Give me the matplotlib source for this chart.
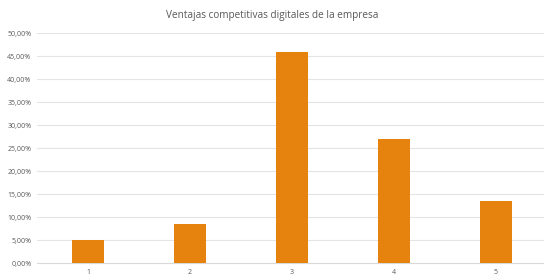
import matplotlib.pyplot as plt
from matplotlib.ticker import FuncFormatter

# Data
categories = ["1", "2", "3", "4", "5"]
values = [4.9, 8.4, 45.8, 27.0, 13.4]
y_ticks = [0, 5, 10, 15, 20, 25, 30, 35, 40, 45, 50]

plt.rcParams['font.family'] = ['Open Sans', 'DejaVu Sans']

# Creating the figure
fig = plt.figure(figsize=(5.44, 2.76), dpi=100)
ax = fig.add_axes([0.068, 0.047, 0.9375, 0.833])

# Adding data
ax.bar(categories, values, width=0.315, color="#E6830F", zorder=3)

# Customizing axis
ax.set_xlim(-0.5, 4.5)
ax.set_ylim(0, 50)
ax.set_yticks(y_ticks)
ax.yaxis.set_major_formatter(FuncFormatter(lambda v, p: ("%.2f%%" % v).replace(".", ",")))
ax.grid(axis="y", color="#E4E4E4", linewidth=0.8, zorder=0)
for side in ["top", "right", "left"]:
    ax.spines[side].set_visible(False)
ax.spines["bottom"].set_color("#D9D9D9")
ax.tick_params(axis="both", length=0, labelsize=5, labelcolor="#595959")
ax.tick_params(axis="y", pad=4)
ax.tick_params(axis="x", pad=4.5)

fig.suptitle("Ventajas competitivas digitales de la empresa", y=0.965, fontsize=7.2, color="#595959")

# Saving the chart
plt.savefig("out.png")
plt.close()
